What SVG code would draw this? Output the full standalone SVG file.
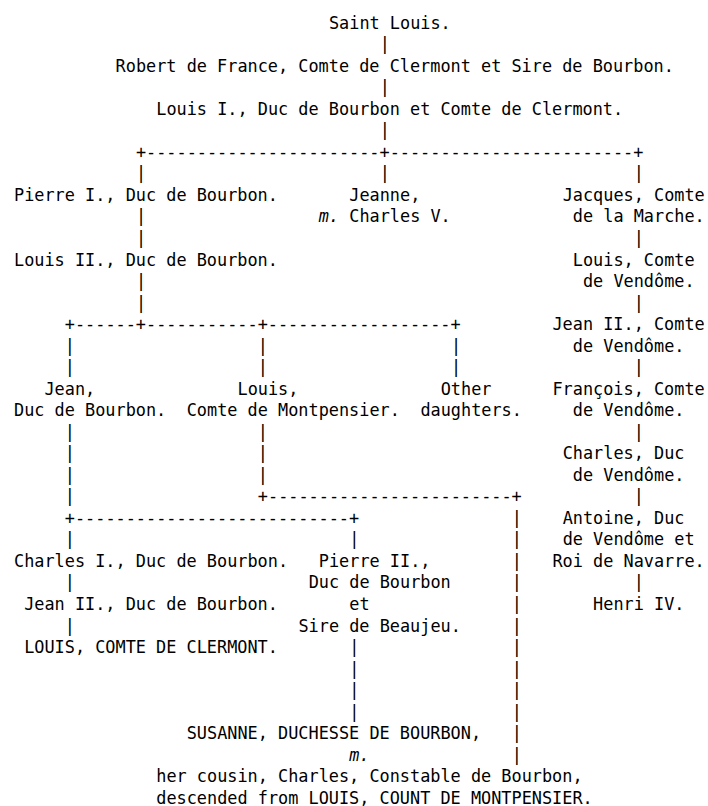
<svg xmlns="http://www.w3.org/2000/svg" width="708" height="806" viewBox="0 0 708 806">
<style>
text{font-family:"DejaVu Sans Mono",monospace;font-size:16.875px;fill:#000;white-space:pre}
.i{font-style:italic}
</style>
<rect width="708" height="806" fill="#fff"/>
<g opacity="0.999">
<g id="connectors">
<text x="379.76" y="50.23">|</text>
<text x="379.76" y="93.29">|</text>
<text x="379.76" y="136.35">|</text>
<text x="135.92" y="157.88">+-----------------------+------------------------+</text>
<text x="135.92" y="179.41">|</text><text x="379.76" y="179.41">|</text><text x="633.76" y="179.41">|</text>
<text x="135.92" y="222.47">|</text>
<text x="135.92" y="244.0">|</text><text x="633.76" y="244.0">|</text>
<text x="135.92" y="287.06">|</text>
<text x="135.92" y="308.59">|</text><text x="633.76" y="308.59">|</text>
<text x="64.8" y="330.12">+------+-----------+------------------+</text>
<text x="64.8" y="351.65">|</text><text x="257.84" y="351.65">|</text><text x="450.88" y="351.65">|</text>
<text x="64.8" y="373.18">|</text><text x="257.84" y="373.18">|</text><text x="450.88" y="373.18">|</text><text x="633.76" y="373.18">|</text>
<text x="64.8" y="437.77">|</text><text x="257.84" y="437.77">|</text><text x="633.76" y="437.77">|</text>
<text x="64.8" y="459.3">|</text><text x="257.84" y="459.3">|</text>
<text x="64.8" y="480.83">|</text><text x="257.84" y="480.83">|</text>
<text x="64.8" y="502.36">|</text><text x="257.84" y="502.36">+------------------------+</text><text x="633.76" y="502.36">|</text>
<text x="64.8" y="523.89">+---------------------------+</text><text x="511.84" y="523.89">|</text>
<text x="64.8" y="545.42">|</text><text x="349.28" y="545.42">|</text><text x="511.84" y="545.42">|</text>
<text x="511.84" y="566.95">|</text>
<text x="64.8" y="588.48">|</text><text x="511.84" y="588.48">|</text><text x="633.76" y="588.48">|</text>
<text x="511.84" y="610.01">|</text>
<text x="64.8" y="631.54">|</text><text x="511.84" y="631.54">|</text>
<text x="349.28" y="653.07">|</text><text x="511.84" y="653.07">|</text>
<text x="349.28" y="674.6">|</text><text x="511.84" y="674.6">|</text>
<text x="349.28" y="696.13">|</text><text x="511.84" y="696.13">|</text>
<text x="349.28" y="717.66">|</text><text x="511.84" y="717.66">|</text>
<text x="511.84" y="739.19">|</text>
<text x="511.84" y="760.72">|</text>
</g>
<g id="saint-louis"><text x="328.96" y="28.7">Saint Louis.</text></g>
<g id="robert"><text x="115.6" y="71.76">Robert de France, Comte de Clermont et Sire de Bourbon.</text></g>
<g id="louis-1"><text x="156.24" y="114.82">Louis I., Duc de Bourbon et Comte de Clermont.</text></g>
<g id="pierre-1"><text x="14" y="200.94">Pierre I., Duc de Bourbon.</text></g>
<g id="jeanne"><text x="349.28" y="200.94">Jeanne,</text><text x="318.8" y="222.47"><tspan class="i">m.</tspan> Charles V.</text></g>
<g id="jacques"><text x="562.64" y="200.94">Jacques, Comte</text><text x="572.8" y="222.47">de la Marche.</text></g>
<g id="louis-2"><text x="14" y="265.53">Louis II., Duc de Bourbon.</text></g>
<g id="louis-vendome"><text x="572.8" y="265.53">Louis, Comte</text><text x="582.96" y="287.06">de Vendôme.</text></g>
<g id="jean-2-vendome"><text x="552.48" y="330.12">Jean II., Comte</text><text x="572.8" y="351.65">de Vendôme.</text></g>
<g id="jean"><text x="44.48" y="394.71">Jean,</text><text x="14" y="416.24">Duc de Bourbon.</text></g>
<g id="louis-montpensier"><text x="237.52" y="394.71">Louis,</text><text x="186.72" y="416.24">Comte de Montpensier.</text></g>
<g id="other-daughters"><text x="440.72" y="394.71">Other</text><text x="420.4" y="416.24">daughters.</text></g>
<g id="francois"><text x="552.48" y="394.71">François, Comte</text><text x="572.8" y="416.24">de Vendôme.</text></g>
<g id="charles-vendome"><text x="562.64" y="459.3">Charles, Duc</text><text x="572.8" y="480.83">de Vendôme.</text></g>
<g id="antoine"><text x="562.64" y="523.89">Antoine, Duc</text><text x="562.64" y="545.42">de Vendôme et</text><text x="552.48" y="566.95">Roi de Navarre.</text></g>
<g id="henri-4"><text x="593.12" y="610.01">Henri IV.</text></g>
<g id="charles-1"><text x="14" y="566.95">Charles I., Duc de Bourbon.</text></g>
<g id="pierre-2"><text x="318.8" y="566.95">Pierre II.,</text><text x="308.64" y="588.48">Duc de Bourbon</text><text x="349.28" y="610.01">et</text><text x="298.48" y="631.54">Sire de Beaujeu.</text></g>
<g id="jean-2"><text x="24.16" y="610.01">Jean II., Duc de Bourbon.</text></g>
<g id="louis-clermont"><text x="24.16" y="653.07">LOUIS, COMTE DE CLERMONT.</text></g>
<g id="susanne"><text x="186.72" y="739.19">SUSANNE, DUCHESSE DE BOURBON,</text><text x="349.28" y="760.72" class="i">m.</text><text x="156.24" y="782.25">her cousin, Charles, Constable de Bourbon,</text><text x="156.24" y="803.78">descended from LOUIS, COUNT DE MONTPENSIER.</text></g>
</g>
</svg>
